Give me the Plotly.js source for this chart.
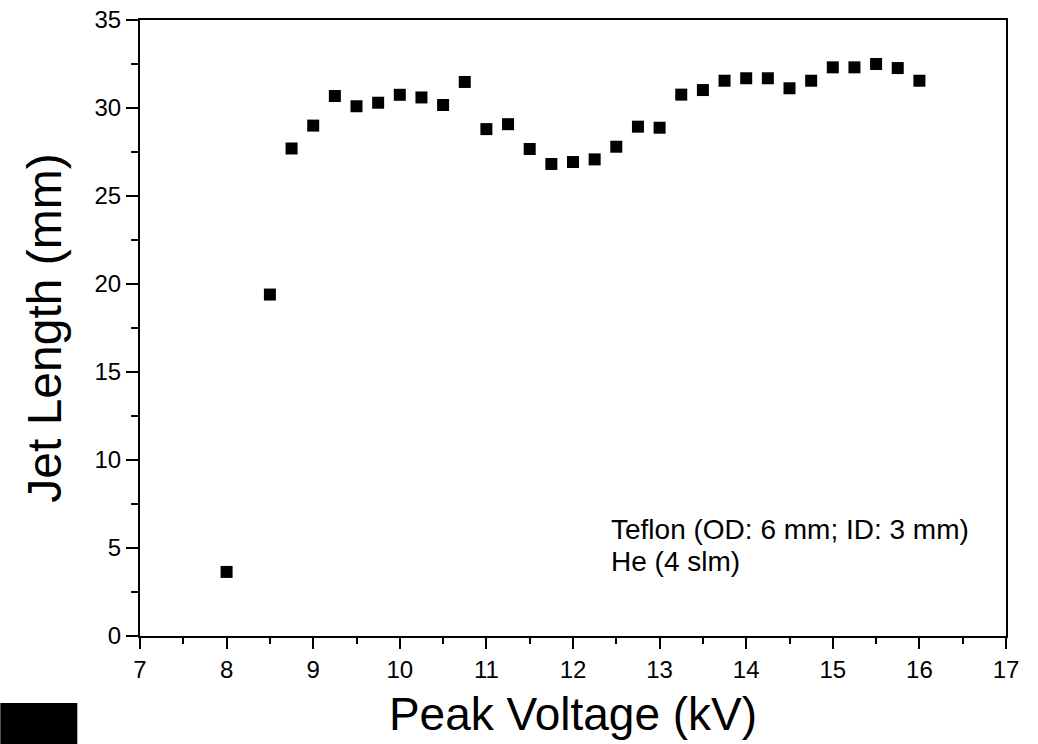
<!DOCTYPE html>
<html>
<head>
<meta charset="utf-8">
<script src="https://cdn.plot.ly/plotly-3.0.1.min.js"></script>
<style>html,body{margin:0;padding:0;background:#fff;}#chart{width:1038px;height:744px;}</style>
</head>
<body>
<div id="chart"></div>
<script>
const voltage = [8, 8.5, 8.75, 9, 9.25, 9.5, 9.75, 10, 10.25, 10.5, 10.75, 11, 11.25, 11.5, 11.75, 12, 12.25, 12.5, 12.75, 13, 13.25, 13.5, 13.75, 14, 14.25, 14.5, 14.75, 15, 15.25, 15.5, 15.75, 16];
const jetLength = [3.64, 19.4, 27.7, 29.0, 30.68, 30.1, 30.3, 30.75, 30.6, 30.17, 31.48, 28.8, 29.08, 27.67, 26.82, 26.93, 27.08, 27.8, 28.94, 28.88, 30.76, 31.02, 31.55, 31.69, 31.69, 31.12, 31.55, 32.31, 32.31, 32.5, 32.27, 31.55];
const xTitle = "Peak Voltage (kV)";
const yTitle = "Jet Length (mm)";
const noteLines = ["Teflon (OD: 6 mm; ID: 3 mm)", "He (4 slm)"];

const FONT = "Arial, 'Liberation Sans', sans-serif";

const trace = {
  x: voltage, y: jetLength, type: "scatter", mode: "markers",
  marker: {symbol: "square", size: 12, color: "#000"},
  cliponaxis: false, showlegend: false
};

const layout = {
  width: 1038, height: 744,
  margin: {l: 139.7, r: 32.3, t: 20, b: 108},
  paper_bgcolor: "#fff", plot_bgcolor: "#fff",
  font: {family: FONT, color: "#000"},
  xaxis: {
    range: [7, 17], dtick: 1, tick0: 7,
    showgrid: false, zeroline: false,
    showline: true, linecolor: "#000", linewidth: 2, mirror: true,
    ticks: "outside", ticklen: 11, tickwidth: 2, tickcolor: "#000",
    tickfont: {size: 24, family: FONT},
    minor: {dtick: 0.5, ticks: "outside", ticklen: 6, tickwidth: 2, tickcolor: "#000", showgrid: false},
    title: {text: xTitle, font: {size: 46, family: FONT}, standoff: 16}
  },
  yaxis: {
    range: [0, 35], dtick: 5, tick0: 0,
    showgrid: false, zeroline: false,
    showline: true, linecolor: "#000", linewidth: 2, mirror: true,
    ticks: "outside", ticklen: 12, tickwidth: 2, tickcolor: "#000",
    tickfont: {size: 24, family: FONT},
    minor: {dtick: 2.5, ticks: "outside", ticklen: 7, tickwidth: 2, tickcolor: "#000", showgrid: false},
    title: {text: yTitle, font: {size: 48, family: FONT}, standoff: 18}
  },
  annotations: [
    {text: noteLines[0], x: 12.42, y: 6.05, xref: "x", yref: "y", xanchor: "left", yanchor: "middle", showarrow: false, font: {size: 28, family: FONT}},
    {text: noteLines[1], x: 12.42, y: 4.23, xref: "x", yref: "y", xanchor: "left", yanchor: "middle", showarrow: false, font: {size: 28, family: FONT}}
  ],
  shapes: [
    {type: "rect", xref: "paper", yref: "paper", x0: -0.1613, x1: -0.0724, y0: -0.1753, y1: -0.1088, fillcolor: "#000", line: {width: 0}}
  ]
};

Plotly.newPlot("chart", [trace], layout, {displayModeBar: false, staticPlot: true});
</script>
</body>
</html>
